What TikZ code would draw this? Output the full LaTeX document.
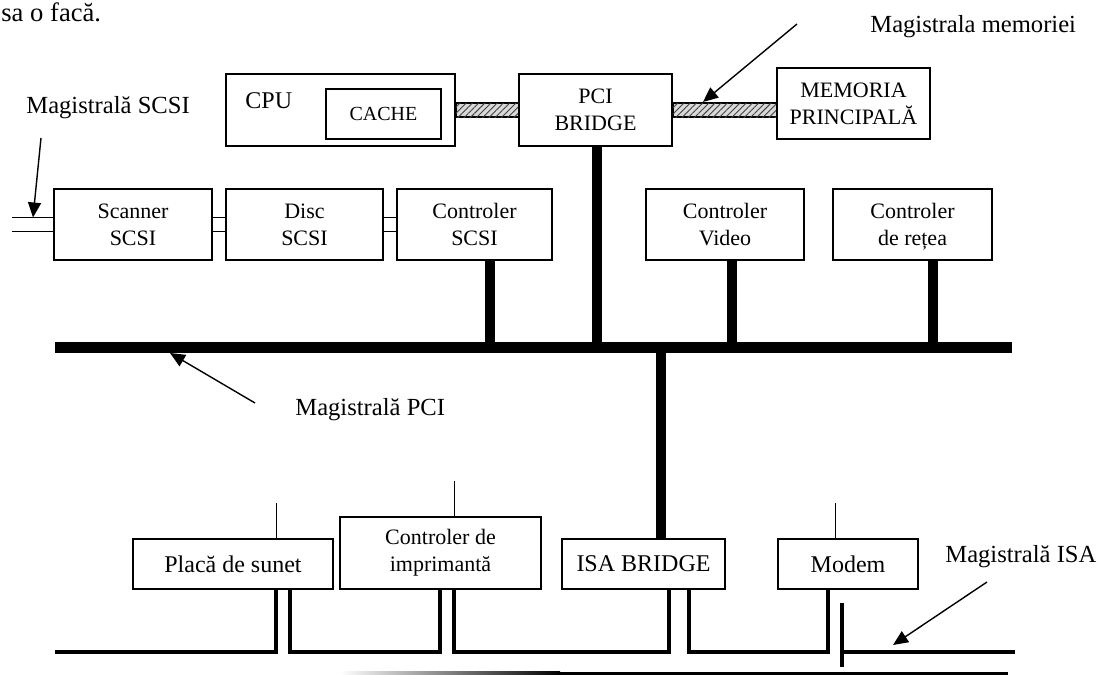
\documentclass[tikz,border=0pt]{standalone}
\usepackage{fontspec}
\setmainfont{Liberation Serif}
\usetikzlibrary{arrows.meta,patterns.meta,calc}
\begin{document}
\begin{tikzpicture}[x=0.5pt,y=-0.5pt,
  box/.style={draw,line width=0.9pt,inner sep=0pt,align=center,font=\fontsize{11}{13.5}\selectfont},
  bigbox/.style={box,font=\fontsize{12}{14}\selectfont},
  lbl/.style={inner sep=0pt,font=\fontsize{12.3}{14}\selectfont},
  bus/.style={line width=5.5pt},
  stub/.style={line width=5pt},
  hatchbar/.style={draw,line width=0.6pt,fill=gray!30,
    postaction={pattern color=black!75,pattern={Lines[angle=45,distance=2.2pt,line width=0.45pt]}}},
  scsi/.style={line width=0.75pt},
  isa/.style={line width=1.7pt},
  thinwire/.style={line width=0.5pt},
  pointer/.style={line width=0.7pt,-{Triangle[length=7.5pt,width=6.5pt]}}
]
\useasboundingbox (0,0) rectangle (1099,675);

% running text above the figure
\node[anchor=base west,inner sep=0pt,font=\fontsize{13.3}{15}\selectfont] (toptext) at (1,21) {sa o facă.};

% processor, bridge and memory
\node[box,minimum width=114.5pt,minimum height=36pt] (cpu) at (340.5,110) {};
\node[anchor=base west,inner sep=0pt,font=\fontsize{12}{14}\selectfont] (cputxt) at (245,108) {CPU};
\node[box,minimum width=57.5pt,minimum height=25pt,font=\fontsize{10}{12}\selectfont] (cache) at (383.5,114) {CACHE};
\node[box,minimum width=76.5pt,minimum height=36pt] (pci) at (595.5,110) {PCI\\BRIDGE};
\node[box,minimum width=76.5pt,minimum height=35.5pt] (mem) at (853.5,103.5) {MEMORIA\\PRINCIPAL\smash{Ă}};

\draw[hatchbar] ($(cpu.east)+(0,-7)$) rectangle ($(pci.west)+(0,7)$);
\draw[hatchbar] ($(pci.east)+(0,-7)$) rectangle ($(mem.west |- pci.east)+(0,7)$);

% PCI devices
\node[box,minimum width=79pt,minimum height=35.5pt] (scanner) at (133,224.5) {Scanner\\SCSI};
\node[box,minimum width=78.5pt,minimum height=35.5pt] (disc) at (304.5,224.5) {Disc\\SCSI};
\node[box,minimum width=77.5pt,minimum height=35.5pt] (ctlscsi) at (474.5,224.5) {Controler\\SCSI};
\node[box,minimum width=79pt,minimum height=35.5pt] (video) at (725,224.5) {Controler\\Video};
\node[box,minimum width=79.5pt,minimum height=35.5pt] (retea) at (912.5,224.5) {Controler\\de re\smash{ț}ea};

% SCSI bus (double line)
\coordinate (scsiend) at (12,224.5);
\foreach \dy in {-7,7} {
  \draw[scsi] ($(scsiend)+(0,\dy)$) -- ($(scanner.west)+(0,\dy)$);
  \draw[scsi] ($(scanner.east)+(0,\dy)$) -- ($(disc.west)+(0,\dy)$);
  \draw[scsi] ($(disc.east)+(0,\dy)$) -- ($(ctlscsi.west)+(0,\dy)$);
}

% PCI bus and its taps
\coordinate (pciL) at (55,347);
\coordinate (pciR) at (1012,347);
\coordinate (tapscsi) at (490,347);
\coordinate (tappci) at (597,347);
\coordinate (tapisa) at (661,347);
\coordinate (tapvideo) at (732,347);
\coordinate (tapretea) at (933,347);
\draw[bus] (pciL) -- (pciR);
\draw[stub] (tapscsi |- ctlscsi.south) -- (tapscsi);
\draw[stub] (tappci |- pci.south) -- (tappci);
\draw[stub] (tapvideo |- video.south) -- (tapvideo);
\draw[stub] (tapretea |- retea.south) -- (tapretea);

% ISA devices
\node[bigbox,minimum width=100pt,minimum height=25pt] (placa) at (233,564) {Placă de sunet};
\node[box,minimum width=100.5pt,minimum height=36pt] (impr) at (440.5,553) {Controler de\\imprimantă};
\node[bigbox,minimum width=81.5pt,minimum height=25pt] (isa) at (643.5,564) {ISA BRIDGE};
\node[bigbox,minimum width=70pt,minimum height=25pt] (modem) at (848,564) {Modem};
\draw[stub] (tapisa) -- (tapisa |- isa.north);

% external connections above the ISA cards
\coordinate (ptop) at (276,503);
\coordinate (itop) at (454,481);
\coordinate (mtop) at (835,503);
\draw[thinwire] (ptop) -- (ptop |- placa.north);
\draw[thinwire] (itop) -- (itop |- impr.north);
\draw[thinwire] (mtop) -- (mtop |- modem.north);

% ISA bus
\coordinate (isaL) at (55,652);
\coordinate (isaR) at (1015,652);
\coordinate (pA) at (276,652);
\coordinate (pB) at (290,652);
\coordinate (iA) at (440,652);
\coordinate (iB) at (454,652);
\coordinate (sA) at (669,652);
\coordinate (sB) at (689,652);
\coordinate (mA) at (828,652);
\coordinate (cut) at (842,652);
\draw[isa] (isaL) -- (pA) -- (pA |- placa.south);
\draw[isa] (pB |- placa.south) -- (pB) -- (iA) -- (iA |- impr.south);
\draw[isa] (iB |- impr.south) -- (iB) -- (sA) -- (sA |- isa.south);
\draw[isa] (sB |- isa.south) -- (sB) -- (mA) -- (mA |- modem.south);
\draw[isa] ($(cut)+(0,-49)$) -- ($(cut)+(0,15)$);
\draw[isa] (cut) -- (isaR);
\shade[left color=white,right color=black] (340,671.5) rectangle (560,674.5);
\fill (559,671.5) rectangle (1008,674.5);

% bus labels
\node[lbl,anchor=base west] (lblscsi) at (26,113) {Magistrală SCSI};
\coordinate (scsitail) at (41,138);
\coordinate (scsitip) at (33,217.5);
\draw[pointer] (scsitail) -- (scsitip);

\node[lbl,anchor=base west] (lblmem) at (870,32) {Magistrala memoriei};
\coordinate (memtail) at (797,24);
\coordinate (memtip) at (703,102);
\draw[pointer] (memtail) -- (memtip);

\node[lbl,anchor=base west] (lblpci) at (295,415) {Magistrală PCI};
\coordinate (pcitail) at (255,403);
\coordinate (pcitip) at (170,353);
\draw[pointer] (pcitail) -- (pcitip);

\node[lbl,anchor=base west] (lblisa) at (945,562) {Magistrală ISA};
\coordinate (isatail) at (987,582);
\coordinate (isatip) at (893,645);
\draw[pointer] (isatail) -- (isatip);
\end{tikzpicture}
\end{document}
